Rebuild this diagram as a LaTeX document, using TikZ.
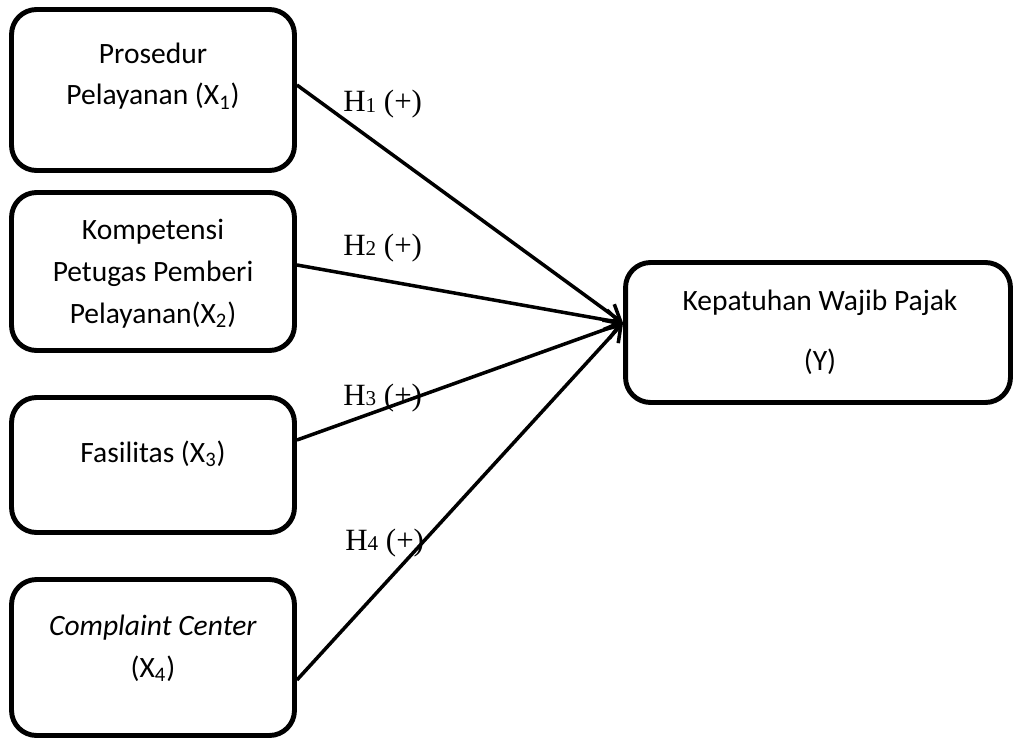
\documentclass[tikz,border=0pt]{standalone}
\usepackage{fontspec}
\setmainfont{Carlito}
\newfontfamily\hfont{Liberation Serif}
\usetikzlibrary{arrows.meta}
\newcommand{\hsub}[1]{H{\fontsize{12pt}{12pt}\selectfont\raisebox{-0.5pt}{#1}} (+)}

\begin{document}
\begin{tikzpicture}[x=0.02cm, y=-0.02cm,
    var node/.style={rectangle, draw, rounded corners=0.5cm, line width=2.8pt, minimum width=5.66cm},
    txt/.style={anchor=base, align=center, inner sep=0pt, font=\fontsize{16.8pt}{23.8pt}\selectfont},
    hlabel/.style={anchor=base west, inner sep=0pt, font=\hfont\fontsize{17.6pt}{17.6pt}\selectfont},
    link/.style={line width=2pt, -{Straight Barb[length=3mm,width=4mm]}}]

  \useasboundingbox (0,0) rectangle (1014,740);

  %% variabel bebas
  \node (Prosedur) [var node, minimum height=3.22cm] at (153,90) {};
  \node (Kompetensi) [var node, minimum height=3.16cm] at (153,271.5) {};
  \node (Fasilitas) [var node, minimum height=2.7cm] at (153,465) {};
  \node (Complaint) [var node, minimum height=3.12cm] at (153,657.5) {};

  %% base = baseline of the last line
  \node (ProsedurT) [txt] at (153,105) {Prosedur\\Pelayanan (X\textsubscript{1})};
  \node (KompetensiT) [txt] at (153,323) {Kompetensi\\Petugas Pemberi\\Pelayanan(X\textsubscript{2})};
  \node (FasilitasT) [txt] at (153,462) {Fasilitas (X\textsubscript{3})};
  \node (ComplaintT) [txt] at (153,677) {\textit{Complaint Center}\\(X\textsubscript{4})};

  %% variabel terikat
  \node (Kepatuhan) [var node, minimum width=7.7cm, minimum height=2.8cm] at (818,332.5) {};
  \node (KepatuhanT) [txt] at (820,370) {Kepatuhan Wajib Pajak\\[0.36cm](Y)};

  \coordinate (Tip) at ([yshift=0.19cm]Kepatuhan.west);

  \draw [link] ([yshift=0.1cm]Prosedur.east) -- (Tip);
  \draw [link] ([yshift=0.13cm]Kompetensi.east) -- (Tip);
  \draw [link] ([yshift=0.5cm]Fasilitas.east) -- (Tip);
  \draw [link] ([yshift=-0.45cm]Complaint.east) -- (Tip);

  %% hipotesis
  \node (H1) [hlabel] at (343,112) {\hsub{1}};
  \node (H2) [hlabel] at (343,255) {\hsub{2}};
  \node (H3) [hlabel] at (343,405) {\hsub{3}};
  \node (H4) [hlabel] at (345,550) {\hsub{4}};

\end{tikzpicture}
\end{document}
